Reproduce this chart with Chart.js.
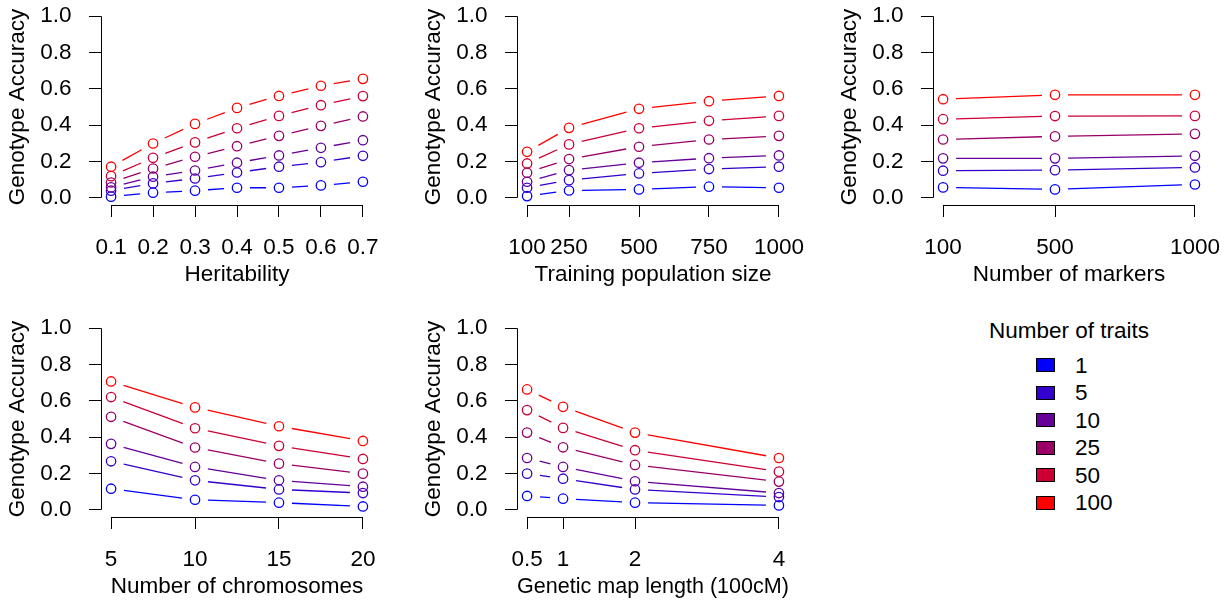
<!DOCTYPE html>
<html>
<head>
<meta charset="utf-8">
<script src="https://cdn.jsdelivr.net/npm/chart.js@4/dist/chart.umd.min.js"></script>
<style>
  body { margin: 0; background: #fff; overflow: hidden; }
  #wrap { position: relative; width: 1229px; height: 604px; overflow: hidden; font-family: Helvetica, Arial, "Liberation Sans", sans-serif; }
  canvas { position: absolute; }
  .lg { position: absolute; font-size: 22.5px; line-height: 27px; color: #000; white-space: nowrap; }
  .sw { position: absolute; width: 17px; height: 12px; border: 1px solid #000; }
</style>
</head>
<body>
<div id="wrap"></div>
<script>
// number of traits (legend) and colours, blue -> red
const traits = ['1', '5', '10', '25', '50', '100'];
const traitColors = ['#0000FF', '#3300CC', '#660099', '#990066', '#CC0033', '#FF0000'];

const yTicks = [0, 0.2, 0.4, 0.6, 0.8, 1.0];

// panel 1: heritability
const heritability = [0.1, 0.2, 0.3, 0.4, 0.5, 0.6, 0.7];
const heritLabels = ['0.1', '0.2', '0.3', '0.4', '0.5', '0.6', '0.7'];
const accHeritability = [
  [0.006, 0.028, 0.039, 0.055, 0.055, 0.068, 0.088],
  [0.039, 0.079, 0.106, 0.139, 0.171, 0.196, 0.231],
  [0.057, 0.116, 0.150, 0.193, 0.233, 0.275, 0.317],
  [0.084, 0.161, 0.226, 0.284, 0.341, 0.396, 0.448],
  [0.119, 0.220, 0.305, 0.383, 0.451, 0.510, 0.560],
  [0.171, 0.299, 0.407, 0.495, 0.561, 0.617, 0.655]
];

// panel 2: training population size
const trainSize = [100, 250, 500, 750, 1000];
const trainLabels = ['100', '250', '500', '750', '1000'];
const accTrainSize = [
  [0.009, 0.040, 0.046, 0.061, 0.055],
  [0.055, 0.097, 0.134, 0.158, 0.171],
  [0.088, 0.152, 0.193, 0.218, 0.233],
  [0.138, 0.213, 0.281, 0.321, 0.341],
  [0.189, 0.294, 0.383, 0.424, 0.451],
  [0.253, 0.385, 0.490, 0.532, 0.561]
];

// panel 3: number of markers
const markers = [100, 500, 1000];
const markerLabels = ['100', '500', '1000'];
const accMarkers = [
  [0.057, 0.046, 0.073],
  [0.149, 0.152, 0.167],
  [0.217, 0.217, 0.231],
  [0.321, 0.338, 0.352],
  [0.433, 0.450, 0.451],
  [0.543, 0.567, 0.567]
];

// panel 4: number of chromosomes
const chromosomes = [5, 10, 15, 20];
const chromLabels = ['5', '10', '15', '20'];
const accChromosomes = [
  [0.116, 0.055, 0.039, 0.018],
  [0.267, 0.162, 0.112, 0.092],
  [0.363, 0.236, 0.162, 0.127],
  [0.512, 0.343, 0.254, 0.199],
  [0.621, 0.449, 0.352, 0.280],
  [0.707, 0.564, 0.460, 0.379]
];

// panel 5: genetic map length
const mapLength = [0.5, 1, 2, 4];
const mapLabels = ['0.5', '1', '2', '4'];
const accMapLength = [
  [0.076, 0.061, 0.039, 0.024],
  [0.199, 0.171, 0.112, 0.070],
  [0.285, 0.236, 0.157, 0.092],
  [0.425, 0.344, 0.247, 0.155],
  [0.549, 0.451, 0.328, 0.210],
  [0.663, 0.567, 0.425, 0.285]
];

Chart.defaults.font.family = 'Helvetica, Arial, "Liberation Sans", sans-serif';
Chart.defaults.font.size = 22.5;
Chart.defaults.color = '#000';

const GAP = 13;
// R type="b": line segments stop short of each point
const gapLines = {
  id: 'gapLines',
  beforeDatasetDraw(chart, args) {
    const pts = args.meta.data;
    const ctx = chart.ctx;
    ctx.save();
    ctx.strokeStyle = chart.data.datasets[args.index].borderColor;
    ctx.lineWidth = 1.3;
    ctx.beginPath();
    for (let i = 0; i < pts.length - 1; i++) {
      const dx = pts[i + 1].x - pts[i].x, dy = pts[i + 1].y - pts[i].y;
      const d = Math.hypot(dx, dy);
      if (d <= 2 * GAP) continue;
      const ux = dx / d, uy = dy / d;
      ctx.moveTo(pts[i].x + ux * GAP, pts[i].y + uy * GAP);
      ctx.lineTo(pts[i + 1].x - ux * GAP, pts[i + 1].y - uy * GAP);
    }
    ctx.stroke();
    ctx.restore();
  }
};

// axis lines only between first and last tick, like base R
const rAxes = {
  id: 'rAxes',
  afterDraw(chart) {
    const { ctx, chartArea, scales } = chart;
    const x = scales.x, y = scales.y;
    ctx.save();
    ctx.strokeStyle = '#000';
    ctx.lineWidth = 1;
    ctx.beginPath();
    const lx = Math.round(chartArea.left) + 0.5;
    ctx.moveTo(lx, y.getPixelForValue(y.ticks[0].value));
    ctx.lineTo(lx, y.getPixelForValue(y.ticks[y.ticks.length - 1].value));
    const by = Math.round(chartArea.bottom) + 0.5;
    ctx.moveTo(x.getPixelForValue(x.ticks[0].value), by);
    ctx.lineTo(x.getPixelForValue(x.ticks[x.ticks.length - 1].value), by);
    ctx.stroke();
    ctx.restore();
  }
};

const BOX_W = 272, BOX_H = 196, Y_W = 101, X_H = 83, PAD_T = 45, PAD_R = 50, PAD_B = 4;
const colLeft = [101, 517, 933];
const rowTop = [9, 321];

function panel(col, row, xs, xLabels, acc, xTitle) {
  const cv = document.createElement('canvas');
  const w = Y_W + BOX_W + PAD_R, h = PAD_T + BOX_H + X_H + PAD_B;
  cv.width = w; cv.height = h;
  cv.style.width = w + 'px'; cv.style.height = h + 'px';
  cv.style.left = (colLeft[col] - Y_W) + 'px';
  cv.style.top = (rowTop[row] - PAD_T) + 'px';
  document.getElementById('wrap').appendChild(cv);
  const span = xs[xs.length - 1] - xs[0];
  new Chart(cv, {
    type: 'line',
    data: {
      datasets: acc.map((vals, i) => ({
        label: traits[i],
        data: xs.map((x, j) => ({ x: x, y: vals[j] })),
        borderColor: traitColors[i],
        pointBorderColor: traitColors[i],
        pointBackgroundColor: 'rgba(0,0,0,0)',
        pointRadius: 4.7,
        pointBorderWidth: 1.3,
        showLine: false,
        order: acc.length - i
      }))
    },
    options: {
      responsive: false,
      animation: false,
      devicePixelRatio: 1,
      events: [],
      layout: { padding: { top: PAD_T, right: PAD_R, bottom: PAD_B, left: 0 } },
      plugins: { legend: { display: false }, tooltip: { enabled: false } },
      scales: {
        x: {
          type: 'linear',
          min: xs[0] - 0.04 * span,
          max: xs[xs.length - 1] + 0.04 * span,
          afterBuildTicks: s => { s.ticks = xs.map(v => ({ value: v })); },
          afterFit: s => { s.height = X_H; },
          border: { display: false },
          grid: { display: true, drawOnChartArea: false, drawTicks: true, tickLength: 12, color: '#000', lineWidth: 1 },
          ticks: { autoSkip: false, maxRotation: 0, padding: 17.5, callback: (v, i) => xLabels[i] },
          title: { display: true, text: xTitle, padding: { top: 0, bottom: 0 } }
        },
        y: {
          min: -0.04,
          max: 1.04,
          afterBuildTicks: s => { s.ticks = yTicks.map(v => ({ value: v })); },
          afterFit: s => { s.width = Y_W; },
          border: { display: false },
          grid: { display: true, drawOnChartArea: false, drawTicks: true, tickLength: 12, color: '#000', lineWidth: 1 },
          ticks: { padding: 17.5, callback: v => v.toFixed(1) },
          title: { display: true, text: 'Genotype Accuracy', padding: { top: 4.5, bottom: 0 } }
        }
      }
    },
    plugins: [gapLines, rAxes]
  });
}

panel(0, 0, heritability, heritLabels, accHeritability, 'Heritability');
panel(1, 0, trainSize, trainLabels, accTrainSize, 'Training population size');
panel(2, 0, markers, markerLabels, accMarkers, 'Number of markers');
panel(0, 1, chromosomes, chromLabels, accChromosomes, 'Number of chromosomes');
panel(1, 1, mapLength, mapLabels, accMapLength, 'Genetic map length (100cM)');

// legend
const wrap = document.getElementById('wrap');
const lt = document.createElement('div');
lt.className = 'lg';
lt.textContent = 'Number of traits';
lt.style.left = '989px';
lt.style.top = (330 - 13.3) + 'px';
wrap.appendChild(lt);
traits.forEach((t, i) => {
  const cy = 365 + i * 27.5;
  const sw = document.createElement('div');
  sw.className = 'sw';
  sw.style.left = '1036px';
  sw.style.top = (cy - 7) + 'px';
  sw.style.background = traitColors[i];
  wrap.appendChild(sw);
  const lb = document.createElement('div');
  lb.className = 'lg';
  lb.textContent = t;
  lb.style.left = '1075px';
  lb.style.top = (cy - 13.3) + 'px';
  wrap.appendChild(lb);
});
</script>
</body>
</html>
